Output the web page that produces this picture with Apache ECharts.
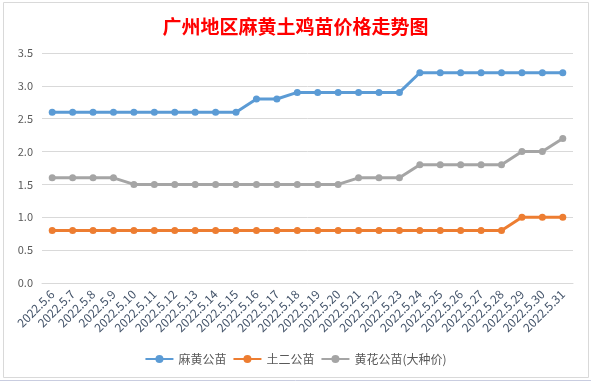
<!DOCTYPE html>
<html>
<head>
<meta charset="utf-8">
<script src="https://cdn.jsdelivr.net/npm/echarts@6/dist/echarts.min.js"></script>
<style>
html,body{margin:0;padding:0;background:#fff;}
#c{width:591px;height:381px;}
</style>
</head>
<body>
<div id="c"></div>
<script>
const titleText = '广州地区麻黄土鸡苗价格走势图';
const categories = ['2022.5.6','2022.5.7','2022.5.8','2022.5.9','2022.5.10','2022.5.11','2022.5.12','2022.5.13','2022.5.14','2022.5.15','2022.5.16','2022.5.17','2022.5.18','2022.5.19','2022.5.20','2022.5.21','2022.5.22','2022.5.23','2022.5.24','2022.5.25','2022.5.26','2022.5.27','2022.5.28','2022.5.29','2022.5.30','2022.5.31'];
const seriesNames = ['麻黄公苗','土二公苗','黄花公苗(大种价)'];
const mahuang = [2.6,2.6,2.6,2.6,2.6,2.6,2.6,2.6,2.6,2.6,2.8,2.8,2.9,2.9,2.9,2.9,2.9,2.9,3.2,3.2,3.2,3.2,3.2,3.2,3.2,3.2];
const tuer = [0.8,0.8,0.8,0.8,0.8,0.8,0.8,0.8,0.8,0.8,0.8,0.8,0.8,0.8,0.8,0.8,0.8,0.8,0.8,0.8,0.8,0.8,0.8,1.0,1.0,1.0];
const huanghua = [1.6,1.6,1.6,1.6,1.5,1.5,1.5,1.5,1.5,1.5,1.5,1.5,1.5,1.5,1.5,1.6,1.6,1.6,1.8,1.8,1.8,1.8,1.8,2.0,2.0,2.2];
const colors = ['#5B9BD5','#ED7D31','#A5A5A5'];

const chart = echarts.init(document.getElementById('c'), null, {renderer:'canvas'});
const font = '"Noto Sans CJK SC", "Microsoft YaHei", sans-serif';
function mk(name, data, color){
  return {
    name: name, type:'line', data: data,
    symbol:'circle', symbolSize:7,
    lineStyle:{width:3, color:color},
    itemStyle:{color:color},
    emphasis:{disabled:true},
    animation:false
  };
}
chart.setOption({
  animation:false,
  color: colors,
  textStyle:{fontFamily: font},
  title:{
    text: titleText, left:'center', top:12,
    textStyle:{color:'#ff0000', fontSize:19, fontWeight:'bold', fontFamily: font}
  },
  grid:{left:42, right:18, top:53, bottom:98, containLabel:false},
  legend:{
    bottom:11, left:'center',
    itemWidth:28, itemHeight:10, itemGap:6,
    textStyle:{color:'#595959', fontSize:12, fontFamily: font},
    data: seriesNames
  },
  xAxis:{
    type:'category', data: categories, boundaryGap:true,
    axisLine:{show:true, lineStyle:{color:'#d9d9d9', width:1}},
    axisTick:{show:false},
    axisLabel:{rotate:45, interval:0, color:'#44546A', fontSize:12, margin:9, fontFamily: font}
  },
  yAxis:{
    type:'value', min:0, max:3.5, interval:0.5,
    axisLine:{show:false}, axisTick:{show:false},
    splitLine:{lineStyle:{color:'#d9d9d9', width:1}},
    axisLabel:{color:'#595959', fontSize:11, margin:9, formatter: v => v.toFixed(1), fontFamily: font}
  },
  graphic:[
    {type:'rect', shape:{x:3.5, y:2.5, width:585, height:375}, style:{fill:null, stroke:'#d9d9d9', lineWidth:1}, z:-1},
    {type:'line', shape:{x1:0, y1:380.5, x2:591, y2:380.5}, style:{stroke:'#c9cde0', lineWidth:1}, z:-1}
  ],
  series:[ mk(seriesNames[0], mahuang, colors[0]), mk(seriesNames[1], tuer, colors[1]), mk(seriesNames[2], huanghua, colors[2]) ]
});
</script>
</body>
</html>
